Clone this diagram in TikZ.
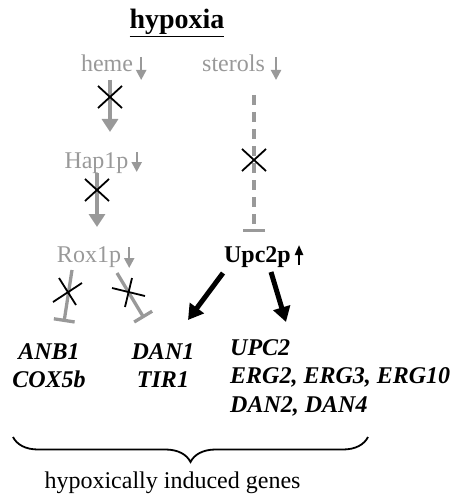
\documentclass[tikz,border=0pt]{standalone}
\usepackage{fontspec}
\setmainfont{Liberation Serif}
\usetikzlibrary{arrows.meta,calc,decorations.pathreplacing}
\definecolor{pale}{gray}{0.6}
\begin{document}
\begin{tikzpicture}[x=1pt,y=-1pt,
  lbl/.style={inner sep=0pt, anchor=base, font=\fontsize{24}{28}\selectfont},
  faded/.style={lbl, text=pale},
  gene/.style={inner sep=0pt, font=\fontsize{24}{28.5}\selectfont\bfseries\itshape},
  drop/.style={draw=pale, line width=2.2pt, -{Triangle[width=10pt,length=10pt]}},
  rise/.style={draw=black, line width=2.2pt, -{Triangle[width=8pt,length=10pt]}},
  link/.style={draw=pale, line width=4pt, -{Triangle[width=16pt,length=13pt]}},
  block/.style={draw=pale, line width=3.3pt, -{Bar[width=21pt]}},
  xmark/.style={draw=black, line width=1.8pt},
  push/.style={draw=black, line width=5pt, -{Triangle[width=17pt,length=15pt]}},
  knock/.pic={\draw[xmark] (-12,-11) -- (12,11) (-12,11) -- (12,-11);}
]
\useasboundingbox (0,0) rectangle (456,500);

% title
\node[inner sep=0pt, anchor=base, font=\fontsize{28}{30}\selectfont\bfseries] (title) at (177,29) {\underline{hypoxia}};

% regulators
\node[faded] (heme) at (107,72) {heme};
\node[faded] (sterols) at (233.5,72) {sterols};
\node[faded] (hap) at (96.5,168) {Hap1p};
\node[faded] (rox) at (89,262) {Rox1p};
\node[lbl, font=\fontsize{24}{28}\selectfont\bfseries] (upc) at (257.5,262) {Upc2p};

% level changes under hypoxia
\draw[drop] ($(heme.base east)+(8,-15)$) -- ($(heme.base east)+(8,8)$);
\draw[drop] ($(sterols.base east)+(11,-15)$) -- ($(sterols.base east)+(11,8)$);
\draw[drop] ($(hap.base east)+(8,-16)$) -- ($(hap.base east)+(8,4)$);
\draw[drop] ($(rox.base east)+(8,-15)$) -- ($(rox.base east)+(8,6)$);
\draw[rise] ($(upc.base east)+(8,3)$) -- ($(upc.base east)+(8,-17)$);

% target genes
\node[gene, align=center, anchor=north] (g1) at (49,343) {ANB1\\COX5b};
\node[gene, align=center, anchor=north] (g2) at (163,343) {DAN1\\TIR1};
\node[gene, align=left, anchor=north west] (g3) at (230,339) {UPC2\\ERG2, ERG3, ERG10\\DAN2, DAN4};

% blocked normoxic pathway
\draw[link] ($(heme.base)+(3,8)$) -- ($(hap.base)+(13.5,-36)$);
\pic at (110,97) {knock};
\draw[link] ($(hap.base)+(0.5,5)$) -- ($(rox.base)+(8,-35)$);
\pic at (97,190) {knock};
\draw[block, dash pattern=on 10pt off 7pt, -{Bar[width=22pt]}] ($(sterols.base)+(20.5,23)$) -- ($(upc.base)+(-3.5,-30)$);
\pic at (254,160) {knock};

% repression by Rox1p, lifted
\coordinate (stopA) at (64,322);
\coordinate (stopB) at (144,318);
\draw[block] ($(rox.base)+(-17,8)$) -- (stopA);
\draw[block] ($(rox.base)+(28,11)$) -- (stopB);
\draw[xmark] (53,302) -- (82,283) (59,278) -- (76,305);
\draw[xmark] (112,288) -- (145,296) (132,278) -- (125,307);

% activation by Upc2p
\draw[push] ($(upc.base)+(-34.5,11)$) -- ($(g2.north)+(25,-23)$);
\draw[push] ($(upc.base)+(13.5,10)$) -- ($(g3.north west)+(56,-17)$);

% grouping brace
\draw[line width=1.8pt, decorate, decoration={brace, amplitude=25pt}] (368,437) -- (13,437);
\node[lbl] (caption) at (172.5,488) {hypoxically induced genes};
\end{tikzpicture}
\end{document}
